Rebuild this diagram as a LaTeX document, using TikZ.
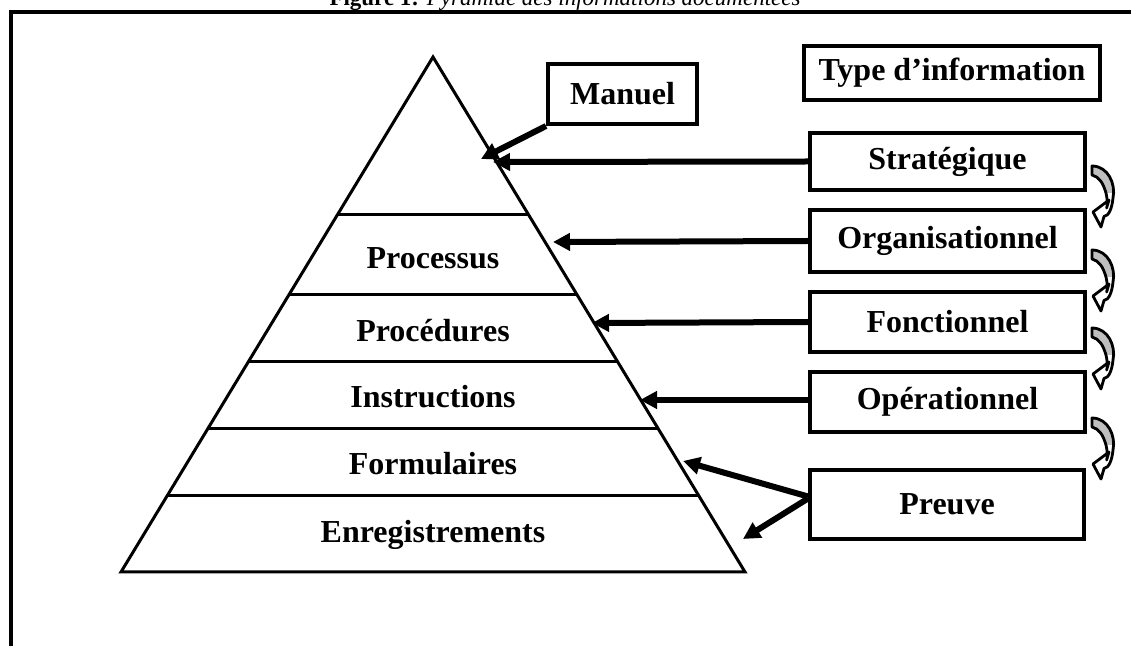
\documentclass[tikz,border=0pt]{standalone}
\usepackage{fontspec}
\setmainfont{Liberation Serif}
\usetikzlibrary{arrows.meta,calc}

% outline of the small twisted arrow between the type boxes (local px, y down)
\newcommand\bendpath{(0,0) .. controls (16,0) and (24,18) .. (21,32)
  .. controls (20,42) and (17,50) .. (12,50.5) -- (9,61) -- (1,46) -- (17,34)
  -- (14.6,42) .. controls (17,38) and (14,12) .. (0,9) -- cycle}

\begin{document}
\begin{tikzpicture}[x=0.5pt,y=-0.5pt,
  box/.style={draw,line width=2pt,inner sep=0pt,align=center,
    font=\fontsize{16}{19}\selectfont\bfseries},
  layer/.style={inner sep=0pt,font=\fontsize{16}{19}\selectfont\bfseries},
  link/.style={line width=3pt,-{Triangle[length=8.5pt,width=8.5pt]}},
  pyr/.style={line width=1.5pt,line join=miter},
  bend/.pic={
    \path[fill=white] \bendpath;
    \begin{scope}
      \clip (-3,-3) rectangle (26,27);
      \fill[black!25] \bendpath;
    \end{scope}
    \draw[line width=1.4pt,line join=round] \bendpath;
  }]
\useasboundingbox (0,0) rectangle (1131,646);

% caption and frame
\node[anchor=base,inner sep=0pt,font=\fontsize{11.5}{14}\selectfont] (cap)
  at (565,5.5) {\textbf{Figure 1:} \textit{Pyramide des informations documentées}};
\draw[line width=2pt] (11,670) -- (11,12.5) -- (1150,12.5);

% pyramid
\coordinate (apex) at (433,57);
\coordinate (bl) at (121,572);
\coordinate (br) at (745,572);
\draw[pyr] (apex) -- (br) -- (bl) -- cycle;
\foreach \t in {0.3068,0.4621,0.5922,0.7223,0.8524}
  \draw[pyr] ($(apex)!\t!(bl)$) -- ($(apex)!\t!(br)$);

\node[layer] (processus) at (433,258) {Processus};
\node[layer] (procedures) at (433,331) {Procédures};
\node[layer] (instructions) at (433,397) {Instructions};
\node[layer] (formulaires) at (433,464) {Formulaires};
\node[layer] (enreg) at (433,535) {Enregistrements};

% boxes
\node[box,minimum width=74.5pt,minimum height=30pt] (manuel) at (622.5,94) {Manuel};
\node[box,minimum width=148pt,minimum height=27pt] (type) at (952,73) {Type d’information};
\node[box,minimum width=137.5pt,minimum height=28.5pt] (strat) at (947.5,161.5) {Stratégique};
\node[box,minimum width=137.5pt,minimum height=31pt] (org) at (947.5,241) {Organisationnel};
\node[box,minimum width=137.5pt,minimum height=30pt] (fonc) at (947.5,322) {Fonctionnel};
\node[box,minimum width=137.5pt,minimum height=30pt] (oper) at (947.5,402) {Opérationnel};
\node[box,minimum width=137pt,minimum height=34.5pt] (preuve) at (947,504.5) {Preuve};

% arrow targets on the pyramid
\coordinate (tman) at (481,159);
\coordinate (tstrat) at (493,162);
\coordinate (torg) at (553,242);
\coordinate (tfonc) at (592,323);
\coordinate (toper) at (640,400);
\coordinate (tform) at (683,461);
\coordinate (tenr) at (743,539);

\draw[link] (manuel.south west) -- (tman);
\draw[link] (strat.west) -- (tstrat);
\draw[link] (org.west) -- (torg);
\draw[link] (fonc.west) -- (tfonc);
\draw[link] ([yshift=1pt]oper.west) -- (toper);
\draw[link] ([yshift=4pt]preuve.west) -- (tform);
\draw[link] ([yshift=3pt]preuve.west) -- (tenr);

% twisted arrows linking the types
\pic at (1092,166) {bend};
\pic at (1092,250) {bend};
\pic at (1092,328) {bend};
\pic at (1092,418) {bend};
\end{tikzpicture}
\end{document}
